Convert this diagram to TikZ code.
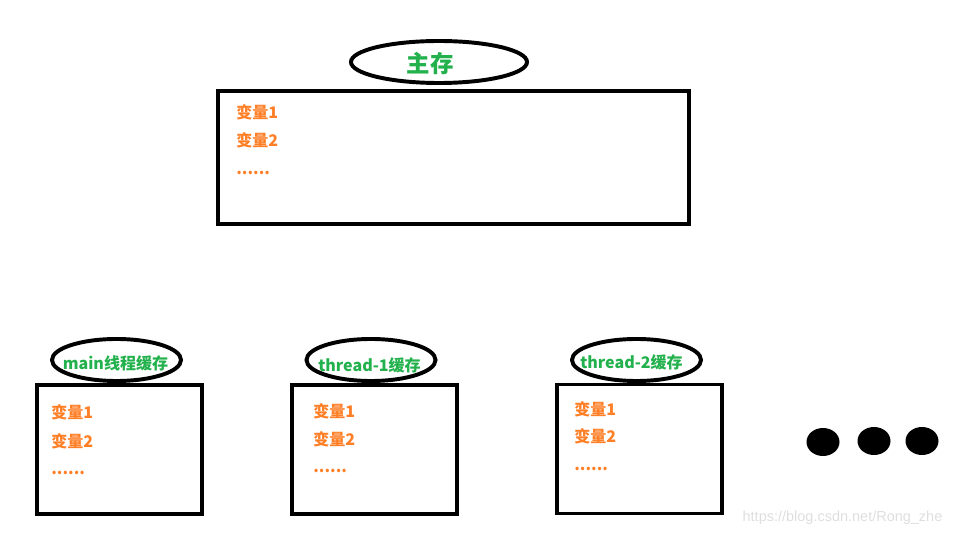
\documentclass[tikz,border=0pt]{standalone}
\usepackage{fontspec}
\usepackage{xcolor}
\usepackage{tikz}
\usetikzlibrary{shapes.geometric}
\setmainfont{Noto Sans CJK SC}
\newfontfamily\markfont{Liberation Sans}
\definecolor{varorange}{RGB}{255,127,39}
\definecolor{taggreen}{RGB}{34,177,76}

\begin{document}
\begin{tikzpicture}[x=0.025cm, y=-0.025cm,
    membox/.style={draw, line width=2.8pt, inner sep=0pt, minimum width=4.125cm, minimum height=3.225cm},
    memtag/.style={draw, ellipse, line width=2.8pt, inner sep=0pt, minimum width=3.225cm, minimum height=1.05cm},
    vartext/.style={anchor=base west, inner sep=0pt, text=varorange, font=\bfseries\fontsize{11.4}{13}\selectfont},
    tagtext/.style={inner sep=0pt, text=taggreen, font=\bfseries\fontsize{11.4}{13}\selectfont},
    bigdot/.style={fill, ellipse, inner sep=0pt, minimum width=0.825cm, minimum height=0.7cm}]
             \useasboundingbox (0,0) rectangle (963,537);

             % main memory
             \node[membox, minimum width=11.775cm, minimum height=3.325cm] (mainmem) at (453.5,157.5) {};
             \node[memtag, minimum width=4.4cm] (mainmemtag) at (439,62) {};
             \node[tagtext, font=\bfseries\fontsize{16.7}{19}\selectfont] (mainmemname) at (430,64) {主存};
             \node[vartext] (mainvar1) at (236,119) {变量1};
             \node[vartext] (mainvar2) at (236,147) {变量2};
             \node[vartext] (mainvarmore) at (236,175) {......};

             % main thread cache
             \node[membox] (cachemain) at (119.5,449.5) {};
             \node[memtag] (cachemaintag) at (116.5,360) {};
             \node[tagtext] (cachemainname) at (115.5,363) {main线程缓存};
             \node[vartext] (cachemainvar1) at (51,419) {变量1};
             \node[vartext] (cachemainvar2) at (51,448) {变量2};
             \node[vartext] (cachemainmore) at (51,475) {......};

             % thread-1 cache
             \node[membox] (cacheone) at (374.5,449.5) {};
             \node[memtag] (cacheonetag) at (371,360) {};
             \node[tagtext] (cacheonename) at (369.5,365) {thread-1缓存};
             \node[vartext] (cacheonevar1) at (313,418) {变量1};
             \node[vartext] (cacheonevar2) at (313,446) {变量2};
             \node[vartext] (cacheonemore) at (313,473) {......};

             % thread-2 cache
             \node[membox] (cachetwo) at (639.5,449) {};
             \node[memtag] (cachetwotag) at (636.5,360) {};
             \node[tagtext] (cachetwoname) at (631.5,362) {thread-2缓存};
             \node[vartext] (cachetwovar1) at (574,416) {变量1};
             \node[vartext] (cachetwovar2) at (574,443) {变量2};
             \node[vartext] (cachetwomore) at (574,471) {......};

             \node[bigdot] (dotone) at (823,442) {};
             \node[bigdot] (dottwo) at (874,441) {};
             \node[bigdot] (dotthree) at (922,441) {};

             \node[text=black!13, font=\markfont\fontsize{10.3}{12}\selectfont] (mark) at (842.5,518) {https://blog.csdn.net/Rong\_zhe};
\end{tikzpicture}
\end{document}
